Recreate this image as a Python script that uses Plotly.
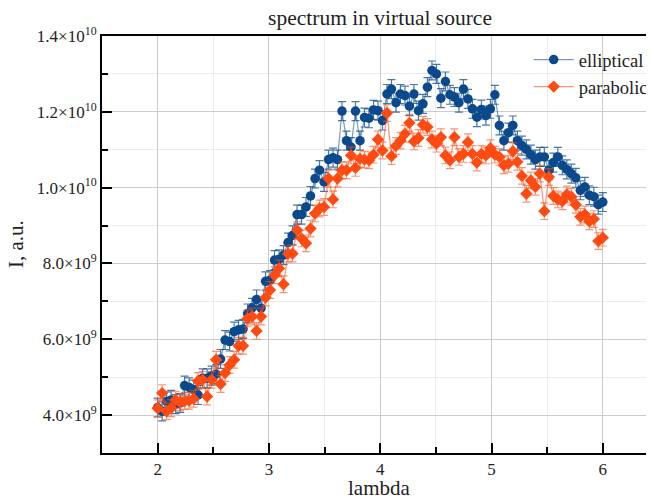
import numpy as np
import plotly.graph_objects as go

# wavelength grid (100 samples between 2 and 6)
lam = np.linspace(2.0, 6.0, 100)

# intensities in units of 1e9
elliptical = [4.20, 4.10, 4.36, 4.40, 4.29, 4.32, 4.78, 4.73, 4.67, 4.53,
              4.97, 4.97, 5.04, 5.08, 5.48, 5.98, 5.94, 6.20, 6.25, 6.27,
              6.68, 6.83, 7.05, 6.82, 7.53, 7.56, 8.09, 8.11, 8.22, 8.55,
              8.74, 9.29, 9.29, 9.49, 9.78, 10.24, 10.46, 10.15, 10.74, 10.79,
              10.74, 12.02, 11.24, 11.07, 12.02, 11.24, 11.85, 11.83, 12.05, 12.03,
              11.77, 12.47, 12.60, 12.24, 12.47, 12.43, 12.15, 12.47, 12.03, 12.21,
              12.65, 13.09, 13.00, 12.36, 12.80, 12.45, 12.39, 12.24, 12.60, 12.34,
              12.08, 11.86, 12.06, 11.90, 12.08, 12.45, 11.64, 11.24, 11.45, 11.64,
              11.24, 11.11, 11.01, 10.87, 10.74, 10.81, 10.81, 10.46, 10.66, 10.81,
              10.59, 10.48, 10.37, 10.26, 9.93, 10.02, 9.80, 9.76, 9.55, 9.62]

parabolic = [4.18, 4.58, 4.10, 4.18, 4.40, 4.34, 4.37, 4.38, 4.43, 4.90,
             4.93, 4.49, 4.93, 5.46, 4.82, 5.11, 5.32, 5.46, 5.83, 5.83,
             6.55, 6.60, 6.22, 6.60, 7.10, 7.30, 7.69, 7.87, 7.45, 8.26,
             8.26, 8.88, 8.66, 8.53, 8.92, 9.32, 9.45, 9.49, 10.24, 9.69,
             10.24, 10.46, 10.46, 10.85, 10.52, 10.76, 10.74, 10.72, 10.87, 11.27,
             10.98, 11.97, 10.83, 11.10, 11.24, 11.42, 11.71, 11.22, 11.31, 11.66,
             11.60, 11.27, 11.16, 11.33, 10.85, 10.72, 11.33, 10.81, 10.89, 11.20,
             10.89, 10.66, 10.89, 10.85, 11.04, 10.87, 10.81, 10.59, 10.63, 10.96,
             10.68, 10.31, 9.84, 10.19, 10.02, 10.37, 9.38, 10.28, 9.78, 9.69,
             9.64, 9.82, 9.76, 9.55, 9.23, 9.29, 9.11, 9.17, 8.59, 8.68]

err_elliptical = 0.25  # 1e9
err_parabolic = 0.22   # 1e9

ytick_vals = [4e9, 6e9, 8e9, 1e10, 1.2e10, 1.4e10]
ytick_text = ["4.0×10<sup>9</sup>", "6.0×10<sup>9</sup>", "8.0×10<sup>9</sup>",
              "1.0×10<sup>10</sup>", "1.2×10<sup>10</sup>", "1.4×10<sup>10</sup>"]

SERIF = "Liberation Serif"
TXT = "#222222"
BLUE = "#0a4a8c"
ORANGE = "#ff4b12"

# the page body adds an 8px margin, so the figure is 8px smaller than the window
W, H = 646, 490
ML, MT, MB = 94, 28, 45
PW, PH = W - ML, H - MT - MB

fig = go.Figure()
fig.add_trace(go.Scatter(
    x=lam, y=[v * 1e9 for v in elliptical], name="elliptical",
    mode="lines+markers",
    line=dict(color="rgba(10,74,140,0.55)", width=1.2),
    marker=dict(symbol="circle", size=9.5, color=BLUE),
    error_y=dict(type="constant", value=err_elliptical * 1e9,
                 color="rgba(10,74,140,0.75)", thickness=1.2, width=4),
))
fig.add_trace(go.Scatter(
    x=lam, y=[v * 1e9 for v in parabolic], name="parabolic",
    mode="lines+markers",
    line=dict(color="rgba(255,75,18,0.6)", width=1.2),
    marker=dict(symbol="diamond", size=9.5, color=ORANGE),
    error_y=dict(type="constant", value=err_parabolic * 1e9,
                 color="rgba(255,75,18,0.6)", thickness=1.2, width=4),
))

axis_common = dict(
    showline=True, linecolor="black", linewidth=2,
    ticks="inside", ticklen=10, tickwidth=1.5, tickcolor="black",
    showgrid=True, gridcolor="#cccccc", gridwidth=1,
    zeroline=False, automargin=False,
    tickfont=dict(family=SERIF, size=17, color=TXT),
)

fig.update_xaxes(
    **axis_common,
    range=[1.5, 6.46], dtick=1, tick0=0, mirror=True,
    minor=dict(dtick=0.5, ticklen=6, tickwidth=1.5, tickcolor="black",
               ticks="inside", showgrid=True, gridcolor="#ececec", gridwidth=1),
)
fig.update_yaxes(
    **axis_common,
    range=[3e9, 1.4e10], tickvals=ytick_vals, ticktext=ytick_text,
    minor=dict(tickvals=[3e9, 5e9, 7e9, 9e9, 1.1e10, 1.3e10], ticklen=6,
               tickwidth=1.5, tickcolor="black", ticks="inside",
               showgrid=True, gridcolor="#ececec", gridwidth=1),
)

fig.update_layout(
    width=W, height=H,
    margin=dict(l=ML, r=0, t=MT, b=MB, pad=0),
    paper_bgcolor="white", plot_bgcolor="white",
    title=dict(text="spectrum in virtual source", x=372 / W, xanchor="center",
               y=1 - 9 / H, yanchor="middle", xref="container",
               font=dict(family=SERIF, size=21.5, color=TXT)),
    legend=dict(x=0.773, y=0.988, xanchor="left", yanchor="top",
                bgcolor="rgba(0,0,0,0)", font=dict(family=SERIF, size=18.5, color=TXT),
                tracegroupgap=0, itemwidth=40),
    showlegend=True,
    annotations=[
        dict(text="lambda", xref="paper", yref="paper", x=(371 - ML) / PW,
             y=-35 / PH, xanchor="center", yanchor="middle",
             showarrow=False, font=dict(family=SERIF, size=21, color=TXT)),
        dict(text="I, a.u.", xref="paper", yref="paper", x=-(ML - 8) / PW,
             y=(445 - 236) / PH, xanchor="center", yanchor="middle", textangle=-90,
             showarrow=False, font=dict(family=SERIF, size=21, color=TXT)),
    ],
)

fig.write_html("out.html")
